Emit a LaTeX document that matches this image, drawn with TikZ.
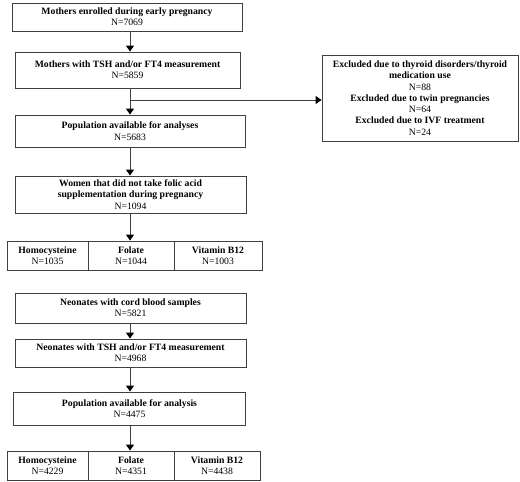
\documentclass[tikz,border=0pt]{standalone}
\usepackage{fontspec}
\setmainfont{Liberation Serif}
\usetikzlibrary{arrows.meta}
\definecolor{lc}{HTML}{404040}
\tikzset{
  box/.style={draw=lc, line width=0.9pt, inner sep=0pt, align=center,
    font=\fontsize{9.7}{11.3}\selectfont},
  arr/.style={draw=lc, line width=0.9pt, -{Triangle[width=8pt,length=6pt,color=black]}},
  ln/.style={draw=lc, line width=0.9pt}
}
\newcommand{\bt}[2]{\textbf{#1}\\#2}
\begin{document}
\begin{tikzpicture}[x=1pt,y=-1pt]
\useasboundingbox (0,0) rectangle (520,482);
% maternal part
\node[box, minimum width=230pt, minimum height=28pt] (b1) at (127,17) {\bt{Mothers enrolled during early pregnancy}{N=7069}};
\node[box, minimum width=225pt, minimum height=36pt] (b2) at (127.5,70) {\bt{Mothers with TSH and/or FT4 measurement}{N=5859}};
\node[box, minimum width=230pt, minimum height=32pt] (b3) at (130,131) {\bt{Population available for analyses}{N=5683}};
\node[box, minimum width=231pt, minimum height=37pt] (b4) at (130.5,194.5) {\textbf{Women that did not take folic acid}\\\textbf{supplementation during pregnancy}\\N=1094};
\node[box, minimum width=81pt, minimum height=29pt] (h1) at (47.5,255.5) {\bt{Homocysteine}{N=1035}};
\node[box, minimum width=86pt, minimum height=29pt] (f1) at (131,255.5) {\bt{Folate}{N=1044}};
\node[box, minimum width=88pt, minimum height=29pt] (v1) at (218,255.5) {\bt{Vitamin B12}{N=1003}};
\node[box, minimum width=196pt, minimum height=86pt] (ex) at (420,98) {\textbf{Excluded due to thyroid disorders/thyroid}\\\textbf{medication use}\\N=88\\\textbf{Excluded due to twin pregnancies}\\N=64\\\textbf{Excluded due to IVF treatment}\\N=24};
\coordinate (j) at (130,100);
\draw[arr] (b1.south -| j) -- (b2.north -| j);
\draw[arr] (b2.south -| j) -- (b3.north -| j);
\draw[arr] (j) -- (j -| ex.west);
\draw[arr] (b3.south -| j) -- (b4.north -| j);
\draw[arr] (b4.south -| j) -- (f1.north -| j);
% neonatal part
\node[box, minimum width=231pt, minimum height=30pt] (n1) at (130.5,308) {\bt{Neonates with cord blood samples}{N=5821}};
\node[box, minimum width=231pt, minimum height=28pt] (n2) at (130.5,353) {\bt{Neonates with TSH and/or FT4 measurement}{N=4968}};
\node[box, minimum width=232pt, minimum height=33pt] (n3) at (129.5,408.5) {\bt{Population available for analysis}{N=4475}};
\node[box, minimum width=81pt, minimum height=29pt] (h2) at (47.5,465.5) {\bt{Homocysteine}{N=4229}};
\node[box, minimum width=86pt, minimum height=29pt] (f2) at (131,465.5) {\bt{Folate}{N=4351}};
\node[box, minimum width=86pt, minimum height=29pt] (v2) at (217,465.5) {\bt{Vitamin B12}{N=4438}};
\draw[arr] (n1.south -| j) -- (n2.north -| j);
\draw[arr] (n2.south -| j) -- (n3.north -| j);
\draw[arr] (n3.south -| j) -- (f2.north -| j);
\end{tikzpicture}
\end{document}
